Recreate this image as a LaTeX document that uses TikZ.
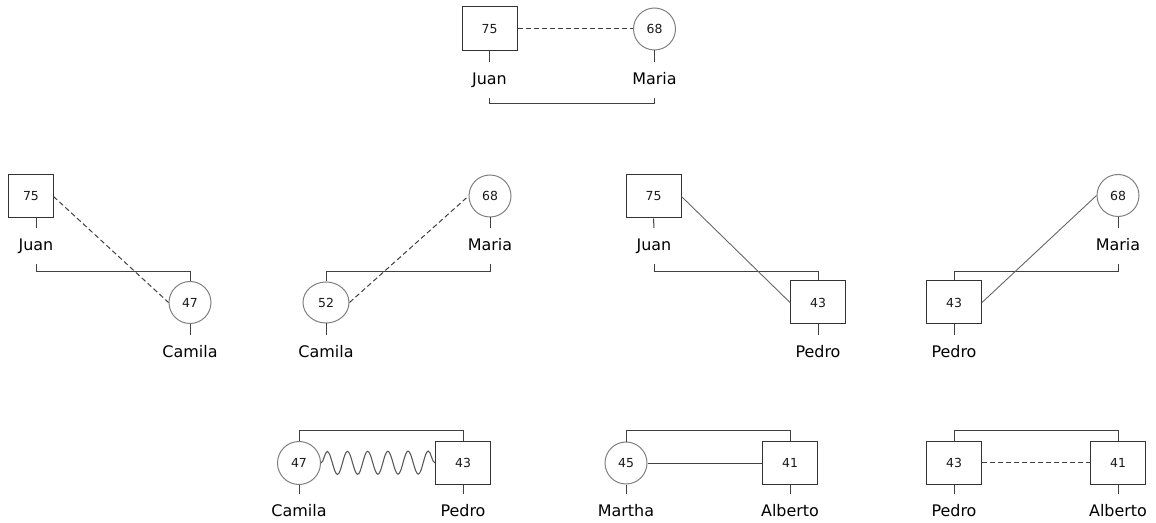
\documentclass[tikz,border=0pt]{standalone}
\usepackage{fontspec}
\setmainfont{DejaVu Sans}
\usetikzlibrary{shapes.geometric,decorations.pathmorphing}
\begin{document}
\begin{tikzpicture}[x=1bp,y=-1bp,
  malebox/.style={draw=black!80, line width=1bp, minimum width=55bp, minimum height=43bp, inner sep=0pt, font=\fontsize{12.5}{14}\selectfont, text=black!90},
  femcirc/.style={draw=black!50, line width=1bp, circle, minimum size=42bp, inner sep=0pt, font=\fontsize{12.5}{14}\selectfont, text=black!90},
  namelbl/.style={anchor=north, inner xsep=0pt, inner ysep=10bp, text height=12bp, text depth=3.5bp, font=\fontsize{16}{19}\selectfont, text=black},
  famlink/.style={draw=black!75, line width=1bp},
  dashline/.style={draw=black!75, line width=1bp, dash pattern=on 5bp off 3bp},
  relline/.style={draw=black!60, line width=0.9bp},
  waveline/.style={draw=black!65, line width=1.1bp, decorate, decoration={snake, amplitude=11.5bp, segment length=20.2bp}}
]
\useasboundingbox (0,0) rectangle (1156,523);

% ---- top group
\node[malebox, minimum height=44bp] (a1) at (489.5,29) {75};
\node[femcirc] (a2) at (654.5,29) {68};
\node[namelbl] (la1) at (489.5,62) {Juan};
\node[namelbl] (la2) at (654.5,62) {Maria};
\draw[famlink] (a1.south) -- (la1.north);
\draw[famlink] (a2.south) -- (la2.north);
\draw[famlink] (la1.south) -- ++(0,6) -| (la2.south);
\draw[dashline] (a1.east) -- (a2.west);

% ---- row 2, group 1
\node[malebox, minimum width=44bp] (b1) at (31,196.5) {75};
\node[femcirc] (b2) at (190,302.5) {47};
\node[namelbl] (lb1) at (36,228) {Juan};
\node[namelbl] (lb2) at (190,335) {Camila};
\draw[famlink] (lb1.north |- b1.south) -- (lb1.north);
\draw[famlink] (b2.south) -- (lb2.north);
\draw[famlink] (lb1.south) -- ++(0,7.5) -| (b2.north);
\draw[dashline] (b1.east) -- (b2.west);

% ---- row 2, group 2
\node[femcirc] (c1) at (490,196) {68};
\node[draw=black!50, line width=1bp, ellipse, minimum width=46bp, minimum height=41bp, inner sep=0pt, font=\fontsize{12.5}{14}\selectfont, text=black!90] (c2) at (326,302.5) {52};
\node[namelbl] (lc1) at (490,228) {Maria};
\node[namelbl] (lc2) at (326,335) {Camila};
\draw[famlink] (c1.south) -- (lc1.north);
\draw[famlink] (c2.south) -- (lc2.north);
\draw[famlink] (lc1.south) -- ++(0,7.5) -| (c2.north);
\draw[dashline] (c2.east) -- (c1.west);

% ---- row 2, group 3
\node[malebox] (d1) at (653.5,196.5) {75};
\node[malebox] (d2) at (818,302.5) {43};
\node[namelbl] (ld1) at (654,228) {Juan};
\node[namelbl] (ld2) at (818,335) {Pedro};
\draw[famlink] (d1.south) -- (ld1.north);
\draw[famlink] (d2.south) -- (ld2.north);
\draw[famlink] (ld1.south) -- ++(0,7.5) -| (d2.north);
\draw[relline] (d1.east) -- (d2.west);

% ---- row 2, group 4
\node[femcirc] (e1) at (1118,195.5) {68};
\node[malebox] (e2) at (954,302.5) {43};
\node[namelbl] (le1) at (1118,228) {Maria};
\node[namelbl] (le2) at (954,335) {Pedro};
\draw[famlink] (e1.south) -- (le1.north);
\draw[famlink] (e2.south) -- (le2.north);
\draw[famlink] (le1.south) -- ++(0,7.5) -| (e2.north);
\draw[relline] (e2.east) -- (e1.west);

% ---- row 3, group 1
\node[femcirc, minimum size=43bp] (f1) at (299,463) {47};
\node[malebox] (f2) at (463,462.5) {43};
\node[namelbl] (lf1) at (299,494) {Camila};
\node[namelbl] (lf2) at (463,494) {Pedro};
\draw[famlink] (f1.south) -- (lf1.north);
\draw[famlink] (f2.south) -- (lf2.north);
\draw[famlink] (f1.north) -- ++(0,-11) -| (f2.north);
\draw[waveline] (f1.east) -- (f2.west);

% ---- row 3, group 2
\node[femcirc] (g1) at (626,463) {45};
\node[malebox] (g2) at (790,463) {41};
\node[namelbl] (lg1) at (626,494) {Martha};
\node[namelbl] (lg2) at (790,494) {Alberto};
\draw[famlink] (g1.south) -- (lg1.north);
\draw[famlink] (g2.south) -- (lg2.north);
\draw[famlink] (g1.north) -- ++(0,-11) -| (g2.north);
\draw[famlink] (g1.east) -- (g2.west);

% ---- row 3, group 3
\node[malebox] (h1) at (954,462.5) {43};
\node[malebox] (h2) at (1118,462.5) {41};
\node[namelbl] (lh1) at (954,494) {Pedro};
\node[namelbl] (lh2) at (1118,494) {Alberto};
\draw[famlink] (h1.south) -- (lh1.north);
\draw[famlink] (h2.south) -- (lh2.north);
\draw[famlink] (h1.north) -- ++(0,-10.5) -| (h2.north);
\draw[dashline] (h1.east) -- (h2.west);
\end{tikzpicture}
\end{document}
